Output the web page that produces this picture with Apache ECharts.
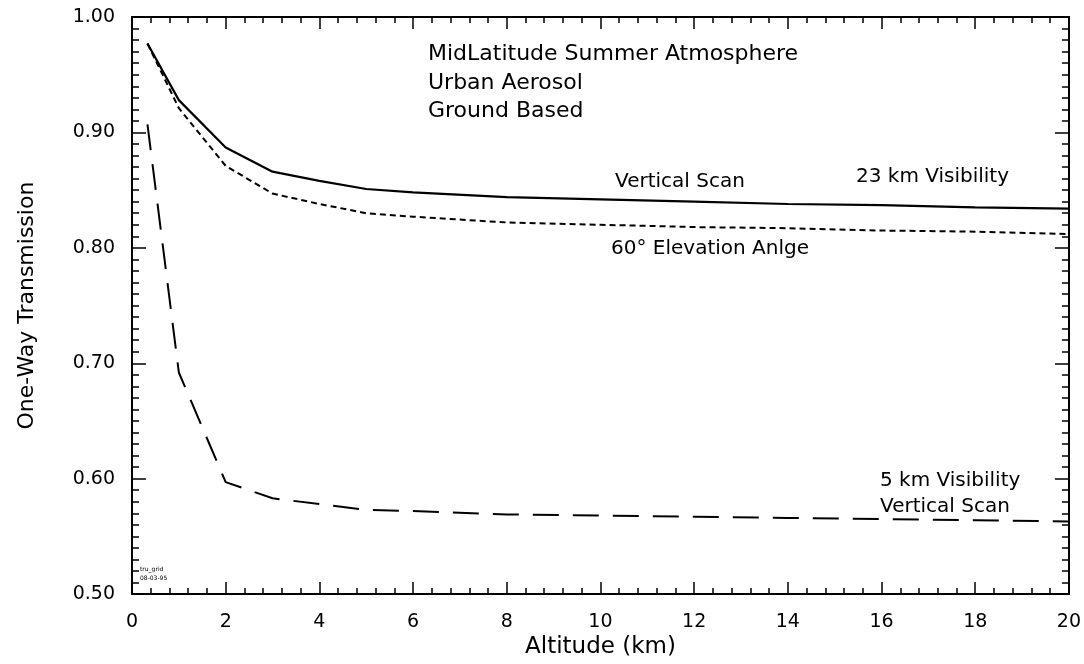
<!DOCTYPE html>
<html>
<head>
<meta charset="utf-8">
<script src="https://cdn.jsdelivr.net/npm/echarts@6/dist/echarts.min.js"></script>
<style>
  html, body { margin: 0; padding: 0; background: #fff; }
  #chart { width: 1084px; height: 664px; }
</style>
</head>
<body>
<div id="chart"></div>
<script>
// altitude (km)
var altitude = [0.33, 1, 2, 3, 4, 5, 6, 8, 10, 12, 14, 16, 18, 20];
// 23 km visibility, vertical scan
var vis23Vertical = [0.977, 0.928, 0.887, 0.866, 0.858, 0.851, 0.848, 0.844, 0.842, 0.840, 0.838, 0.837, 0.835, 0.834];
// 23 km visibility, 60 deg elevation
var vis23Elev60 = [0.977, 0.921, 0.871, 0.847, 0.838, 0.830, 0.827, 0.822, 0.820, 0.818, 0.817, 0.815, 0.814, 0.812];
// 5 km visibility, vertical scan
var vis5Vertical = [0.907, 0.692, 0.597, 0.583, 0.578, 0.573, 0.572, 0.569, 0.568, 0.567, 0.566, 0.565, 0.564, 0.563];

var font = 'DejaVu Sans';

function pairs(ys) {
  return altitude.map(function (x, i) { return [x, ys[i]]; });
}

var chart = echarts.init(document.getElementById('chart'));

// common axis look: black frame, ticks pointing inwards
function xAx(pos, showLabel) {
  return {
    type: 'value', position: pos, min: 0, max: 20, interval: 2,
    name: showLabel ? 'Altitude (km)' : '', nameLocation: 'middle', nameGap: 35,
    nameTextStyle: { fontFamily: font, fontSize: 23, color: '#000' },
    axisLine: { show: true, onZero: false, lineStyle: { color: '#000', width: 2 } },
    axisTick: { show: true, inside: true, length: 12, lineStyle: { color: '#000', width: 1.5 } },
    minorTick: { show: true, splitNumber: 5, length: 6, lineStyle: { color: '#000', width: 1.5 } },
    axisLabel: { show: showLabel, margin: 18, color: '#000', fontFamily: font, fontSize: 19 },
    splitLine: { show: false }
  };
}
function yAx(pos, showLabel) {
  return {
    type: 'value', position: pos, min: 0.5, max: 1.0, interval: 0.1,
    name: showLabel ? 'One-Way Transmission' : '', nameLocation: 'middle', nameGap: 94, nameRotate: 90,
    nameTextStyle: { fontFamily: font, fontSize: 22, color: '#000' },
    axisLine: { show: true, onZero: false, lineStyle: { color: '#000', width: 2 } },
    axisTick: { show: true, inside: true, length: 14, lineStyle: { color: '#000', width: 1.5 } },
    minorTick: { show: true, splitNumber: 10, length: 7, lineStyle: { color: '#000', width: 1.5 } },
    axisLabel: { show: showLabel, margin: 17, color: '#000', fontFamily: font, fontSize: 19,
      formatter: function (v) { return v.toFixed(2); } },
    splitLine: { show: false }
  };
}

function txt(x, y, s, size) {
  return { type: 'text', left: x, top: y,
    style: { text: s, fill: '#000', font: (size || 21) + 'px "' + font + '"' } };
}

var option = {
  animation: false,
  backgroundColor: '#fff',
  grid: { left: 132, right: 15, top: 17, bottom: 67 },
  xAxis: [xAx('bottom', true), xAx('top', false)],
  yAxis: [yAx('left', true), yAx('right', false)],
  series: [
    {
      name: '23 km Vertical Scan', type: 'line', data: pairs(vis23Vertical),
      showSymbol: false, lineStyle: { color: '#000', width: 2.2, type: 'solid' }
    },
    {
      name: '60 Elevation', type: 'line', data: pairs(vis23Elev60),
      showSymbol: false, lineStyle: { color: '#000', width: 2, type: [6, 4] }
    },
    {
      name: '5 km Vertical Scan', type: 'line', data: pairs(vis5Vertical),
      showSymbol: false, lineStyle: { color: '#000', width: 2, type: [26, 14] }
    }
  ],
  graphic: [
    txt(428, 43, 'MidLatitude Summer Atmosphere', 22),
    txt(428, 72, 'Urban Aerosol', 22),
    txt(428, 100, 'Ground Based', 22),
    txt(615, 172, 'Vertical Scan', 20),
    txt(856, 167, '23 km Visibility', 20),
    txt(611, 239, '60° Elevation Anlge', 20),
    txt(880, 471, '5 km Visibility', 20),
    txt(880, 497, 'Vertical Scan', 20),
    txt(140, 566, 'tru_grid', 6),
    txt(140, 575, '08-03-95', 6)
  ]
};

chart.setOption(option);
</script>
</body>
</html>
